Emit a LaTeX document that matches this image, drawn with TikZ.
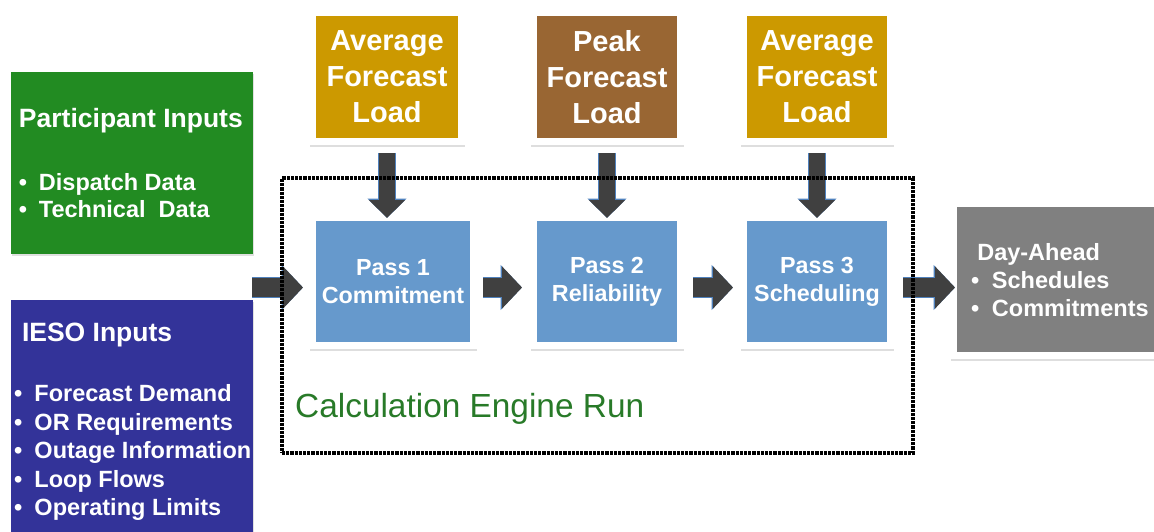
\documentclass[tikz,border=0pt]{standalone}
\usepackage{fontspec}
\setmainfont{Liberation Sans}
\usetikzlibrary{arrows.meta,shadows}
\definecolor{pgreen}{RGB}{34,139,34}
\definecolor{iblue}{RGB}{51,51,153}
\definecolor{gold}{RGB}{204,153,0}
\definecolor{brownish}{RGB}{153,102,51}
\definecolor{passblue}{RGB}{102,153,204}
\definecolor{dagrey}{RGB}{128,128,128}
\definecolor{arrowgrey}{RGB}{64,64,64}
\definecolor{rimblue}{RGB}{79,129,189}
\definecolor{enggreen}{RGB}{40,122,40}
\newcommand\bul[1]{\makebox[#1][l]{•}}
\newcommand\barrow[4]{\draw[#1rim,#2] #3 -- #4; \draw[#1body,#2] #3 -- #4;}
\tikzset{
  framed/.style={rectangle, inner sep=0pt, outer sep=0pt, fill=white, text=white,
    align=center, font=\bfseries,
    drop shadow={shadow xshift=0.6pt, shadow yshift=-2pt, fill=black, opacity=0.13},
    path picture={\fill[#1] ([shift={(6.5pt,6.5pt)}]path picture bounding box.south west)
      rectangle ([shift={(-6.5pt,-6.5pt)}]path picture bounding box.north east);}},
  topbox/.style={framed=#1, minimum width=155pt, minimum height=135pt,
    font=\bfseries\fontsize{29}{36}\selectfont},
  passbox/.style={framed=passblue, minimum height=134pt,
    font=\bfseries\fontsize{23.3}{28}\selectfont},
  inbox/.style={rectangle, inner sep=0pt, outer sep=0pt, fill=#1, minimum width=242pt,
    drop shadow={shadow xshift=0.6pt, shadow yshift=-1.5pt, fill=black, opacity=0.12}},
  wtext/.style={text=white, inner sep=0pt, outer sep=0pt, anchor=base west},
  titlefont/.style={font=\bfseries\fontsize{26.5}{30}\selectfont},
  rbody/.style={line width=19pt, draw=arrowgrey, -{Triangle[length=20pt 0,width=41pt 0]}},
  rrim/.style={line width=21pt, draw=rimblue, -{Triangle[length=21.5pt 0,width=44pt 0]}},
  dbody/.style={line width=16pt, draw=arrowgrey, -{Triangle[length=18pt 0,width=35pt 0]}},
  drim/.style={line width=18pt, draw=rimblue, -{Triangle[length=19.5pt 0,width=38pt 0]}},
  engbox/.style={draw=black, line width=4pt, dash pattern=on 3.2pt off 1pt,
    inner sep=0pt, outer sep=0pt},
}
\begin{document}
\begin{tikzpicture}[x=1pt,y=-1pt]
\useasboundingbox (0,0) rectangle (1154,531);
% input boxes
\node[inbox=pgreen, minimum height=182pt] (part) at (132,163) {};
\node[inbox=iblue, minimum height=260pt] (ieso) at (132,430) {};
\node[wtext, titlefont] (parttitle) at (19,127.6) {Participant Inputs};
\node[wtext, font=\bfseries\fontsize{23.5}{27.5}\selectfont] (partlist) at (19,190)
  {\begin{tabular}[t]{@{}l@{}}\bul{20pt}Dispatch Data\\\bul{20pt}Technical~ Data\end{tabular}};
\node[wtext, titlefont] (iesotitle) at (22,341) {IESO Inputs};
\node[wtext, font=\bfseries\fontsize{23.5}{28.5}\selectfont] (iesolist) at (14,401.6)
  {\begin{tabular}[t]{@{}l@{}}\bul{20.5pt}Forecast Demand\\\bul{20.5pt}OR Requirements\\\bul{20.5pt}Outage Information\\\bul{20.5pt}Loop Flows\\\bul{20.5pt}Operating Limits\end{tabular}};
% top boxes
\node[topbox=gold] (afl1) at (387,77) {Average\\Forecast\\Load};
\node[topbox=brownish, minimum width=153pt] (peak) at (607,77) {Peak\\Forecast\\Load};
\node[topbox=gold, minimum width=153pt] (afl2) at (817,77) {Average\\Forecast\\Load};
% passes
\node[passbox, minimum width=167pt] (p1) at (393,281.5) {Pass 1\\Commitment};
\node[passbox, minimum width=153pt] (p2) at (607,281.5) {Pass 2\\Reliability};
\node[passbox, minimum width=153pt] (p3) at (817,281.5) {Pass 3\\Scheduling};
% day-ahead
\node[framed=dagrey, minimum width=236pt, minimum height=158pt] (day) at (1068.5,279.5) {};
\node[wtext, font=\bfseries\fontsize{23.5}{28}\selectfont] (daytitle) at (977.3,260.3) {Day-Ahead};
\node[wtext, font=\bfseries\fontsize{23.5}{28}\selectfont] (daylist) at (971,288.3)
  {\begin{tabular}[t]{@{}l@{}}\bul{21pt}Schedules\\\bul{21pt}Commitments\end{tabular}};
% arrows
\coordinate (inp) at (252,287.5);
\barrow{r}{shorten >=6.5pt}{(inp)}{(inp -| p1.west)}
\barrow{r}{shorten <=6.5pt, shorten >=8.5pt}{([yshift=-6pt]p1.east)}{([yshift=-6pt]p2.west)}
\barrow{r}{shorten <=9.5pt, shorten >=7.5pt}{([yshift=-6pt]p2.east)}{([yshift=-6pt]p3.west)}
\barrow{r}{shorten <=9.5pt, shorten >=-4.5pt}{([yshift=-6pt]p3.east)}{([yshift=-6pt]p3.east -| day.west)}
\barrow{d}{shorten <=8.5pt, shorten >=-3.5pt}{(afl1.south)}{(afl1.south |- p1.north)}
\barrow{d}{shorten <=8.5pt, shorten >=-3.5pt}{(peak.south)}{(peak.south |- p2.north)}
\barrow{d}{shorten <=8.5pt, shorten >=-3.5pt}{(afl2.south)}{(afl2.south |- p3.north)}
% engine frame
\node[engbox, minimum width=631pt, minimum height=274.5pt] (engine) at (597.5,315.5) {};
\node[anchor=base west, inner sep=0pt, text=enggreen, font=\fontsize{33.4}{40}\selectfont] (englabel) at (295,417) {Calculation Engine Run};
\end{tikzpicture}
\end{document}
